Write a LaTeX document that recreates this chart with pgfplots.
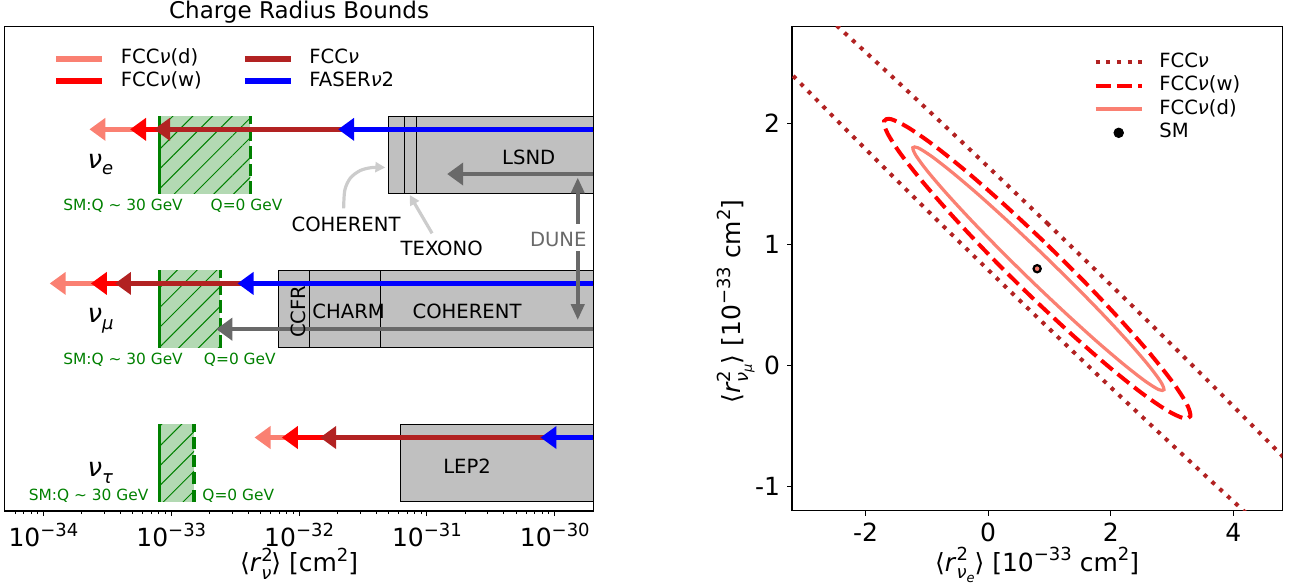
\documentclass[border=0pt]{standalone}
\usepackage{fontspec}
\setmainfont{DejaVu Sans}
\usepackage{pgfplots}
\pgfplotsset{compat=1.18}
\usetikzlibrary{arrows.meta,patterns.meta}
\definecolor{salmon}{HTML}{FA8072}
\definecolor{firebrick}{HTML}{B22222}
\definecolor{mplred}{HTML}{FF0000}
\definecolor{mplblue}{HTML}{0000FF}
\definecolor{dimgray}{HTML}{696969}
\definecolor{lgray}{HTML}{CCCCCC}
\definecolor{boxgray}{HTML}{C0C0C0}
\definecolor{mplgreen}{HTML}{008000}
\definecolor{greenfill}{HTML}{B3D9B3}
\newcommand{\sfs}[1]{\fontsize{#1}{#1}\selectfont}
\newcommand{\pw}[1]{10\raisebox{5pt}{\sfs{9}−#1}}
\newcommand{\sq}{\raisebox{0.42em}{\sfs{9}2}}
\tikzset{
  mainarrow/.style={line width=2.5pt,-{Triangle[length=8pt,width=11pt]}},
  grayarrow/.style={dimgray,line width=2pt,-{Triangle[length=8pt,width=11pt]}},
  txt/.style={inner sep=0pt,font=\sfs{9.8}},
  gtxt/.style={inner sep=0pt,font=\sfs{7.7},text=mplgreen,anchor=base west},
}
\pgfplotsset{
  linelegend/.style={legend image code/.code={\draw[##1] (0pt,0pt) -- (23pt,0pt);}},
  marklegend/.style={legend image code/.code={\draw[mark repeat=2,mark phase=2,##1] plot coordinates {(0pt,0pt) (11.5pt,0pt) (23pt,0pt)};}},
}
\begin{document}
\begin{tikzpicture}
\path[use as bounding box] (0pt,0pt) rectangle (649.5pt,-293pt);
% ---------------- left panel ----------------
\begin{axis}[
  at={(2.5pt,-255.5pt)}, anchor=south west,
  scale only axis, width=294.15pt, height=242.15pt,
  xmode=log, xmin=5e-35, xmax=2e-30, ymin=0.523, ymax=3.666,
  ytick=\empty, ymajorticks=false, yminorticks=false,
  xtick={1e-34,1e-33,1e-32,1e-31,1e-30},
  xticklabels={\pw{34},\pw{33},\pw{32},\pw{31},\pw{30}},
  minor xtick={6e-35,7e-35,8e-35,9e-35,2e-34,3e-34,4e-34,5e-34,6e-34,7e-34,8e-34,9e-34,2e-33,3e-33,4e-33,5e-33,6e-33,7e-33,8e-33,9e-33,2e-32,3e-32,4e-32,5e-32,6e-32,7e-32,8e-32,9e-32,2e-31,3e-31,4e-31,5e-31,6e-31,7e-31,8e-31,9e-31},
  xtick pos=left, tick align=outside,
  major tick length=2.5pt, minor tick length=1.6pt,
  tick style={black,line width=0.5pt},
  axis line style={black,line width=0.55pt},
  xticklabel style={font=\sfs{12.5},text depth=0pt},
  clip mode=individual,
  legend columns=2,
  legend cell align=left,
  linelegend,
  legend style={at={(rel axis cs:0,1)}, anchor=north west, xshift=24pt, yshift=-10.8pt,
    draw=none, fill=none, inner sep=0pt, font=\sfs{9.8}, row sep=1.2pt,
    nodes={inner sep=0pt,text height=7.5pt,text depth=2.5pt},
    /tikz/every odd column/.append style={column sep=7.8pt},
    /tikz/every even column/.append style={column sep=20pt}},
]
\addlegendimage{salmon,line width=3pt}\addlegendentry{FCC\textit{ν}(d)}
\addlegendimage{firebrick,line width=3pt}\addlegendentry{FCC\textit{ν}}
\addlegendimage{mplred,line width=3pt}\addlegendentry{FCC\textit{ν}(w)}
\addlegendimage{mplblue,line width=3pt}\addlegendentry{FASER\textit{ν}2}
% gray boxes
\addplot[fill=boxgray,draw=black,line width=0.5pt] coordinates {(5.02e-32,2.583) (2e-30,2.583) (2e-30,3.085) (5.02e-32,3.085)} -- cycle;
\addplot[black,line width=0.5pt] coordinates {(6.66e-32,2.583) (6.66e-32,3.085)};
\addplot[black,line width=0.5pt] coordinates {(8.32e-32,2.583) (8.32e-32,3.085)};
\addplot[fill=boxgray,draw=black,line width=0.5pt] coordinates {(6.84e-33,1.583) (2e-30,1.583) (2e-30,2.085) (6.84e-33,2.085)} -- cycle;
\addplot[black,line width=0.5pt] coordinates {(1.21e-32,1.583) (1.21e-32,2.085)};
\addplot[black,line width=0.5pt] coordinates {(4.32e-32,1.583) (4.32e-32,2.085)};
\addplot[fill=boxgray,draw=black,line width=0.5pt] coordinates {(6.23e-32,0.583) (2e-30,0.583) (2e-30,1.085) (6.23e-32,1.085)} -- cycle;
% green hatched regions
\addplot[draw=none,fill=greenfill,postaction={pattern={Lines[angle=45,distance=7pt,line width=0.5pt]},pattern color=mplgreen}] coordinates {(8.09e-34,2.583) (4.15e-33,2.583) (4.15e-33,3.085) (8.09e-34,3.085)} -- cycle;
\addplot[draw=none,fill=greenfill,postaction={pattern={Lines[angle=45,distance=7pt,line width=0.5pt]},pattern color=mplgreen}] coordinates {(8.09e-34,1.583) (2.42e-33,1.583) (2.42e-33,2.085) (8.09e-34,2.085)} -- cycle;
\addplot[draw=none,fill=greenfill,postaction={pattern={Lines[angle=45,distance=7pt,line width=0.5pt]},pattern color=mplgreen}] coordinates {(8.09e-34,0.583) (1.51e-33,0.583) (1.51e-33,1.085) (8.09e-34,1.085)} -- cycle;
\addplot[mplgreen,line width=1.65pt] coordinates {(8.09e-34,2.583) (8.09e-34,3.085)};
\addplot[mplgreen,line width=1.65pt] coordinates {(8.09e-34,1.583) (8.09e-34,2.085)};
\addplot[mplgreen,line width=1.65pt] coordinates {(8.09e-34,0.583) (8.09e-34,1.085)};
\addplot[mplgreen,line width=1.65pt,dash pattern=on 6.1pt off 2.65pt] coordinates {(4.15e-33,2.583) (4.15e-33,3.085)};
\addplot[mplgreen,line width=1.65pt,dash pattern=on 6.1pt off 2.65pt] coordinates {(2.42e-33,1.583) (2.42e-33,2.085)};
\addplot[mplgreen,line width=1.65pt,dash pattern=on 6.1pt off 2.65pt] coordinates {(1.51e-33,0.583) (1.51e-33,1.085)};
% gray DUNE arrows
\addplot[grayarrow] coordinates {(2e-30,2.710) (1.44e-31,2.710)};
\addplot[grayarrow] coordinates {(2e-30,1.703) (2.25e-33,1.703)};
% nu_e arrows
\addplot[salmon,mainarrow] coordinates {(2e-30,3) (2.29e-34,3)};
\addplot[mplred,mainarrow] coordinates {(2e-30,3) (4.76e-34,3)};
\addplot[firebrick,mainarrow] coordinates {(2e-30,3) (7.33e-34,3)};
\addplot[mplblue,mainarrow] coordinates {(2e-30,3) (2.02e-32,3)};
% nu_mu arrows
\addplot[salmon,mainarrow] coordinates {(2e-30,2) (1.12e-34,2)};
\addplot[mplred,mainarrow] coordinates {(2e-30,2) (2.35e-34,2)};
\addplot[firebrick,mainarrow] coordinates {(2e-30,2) (3.63e-34,2)};
\addplot[mplblue,mainarrow] coordinates {(2e-30,2) (3.30e-33,2)};
% nu_tau arrows
\addplot[salmon,mainarrow] coordinates {(2e-30,1) (4.48e-33,1)};
\addplot[mplred,mainarrow] coordinates {(2e-30,1) (7.33e-33,1)};
\addplot[firebrick,mainarrow] coordinates {(2e-30,1) (1.46e-32,1)};
\addplot[mplblue,mainarrow] coordinates {(2e-30,1) (7.73e-31,1)};
% annotation arrows
\addplot[dimgray,line width=2pt,{Triangle[length=8pt,width=6.5pt]}-{Triangle[length=8pt,width=6.5pt]}] coordinates {(1.513e-30,1.762) (1.513e-30,2.688)};
\addplot[lgray,line width=1.6pt,smooth,-{Triangle[length=5pt,width=5pt]}] coordinates {(2.230e-32,2.487) (2.279e-32,2.606) (2.517e-32,2.684) (3.013e-32,2.733) (3.72e-32,2.752) (4.73e-32,2.752)};
\addplot[lgray,line width=1.6pt,-{Triangle[length=5pt,width=5pt]}] coordinates {(1.097e-31,2.325) (7.33e-32,2.574)};
% texts
\node[txt,anchor=base] at (axis cs:6.26e-31,2.775) {LSND};
\node[txt,anchor=base] at (axis cs:2.44e-32,1.774) {CHARM};
\node[txt,anchor=base] at (axis cs:2.06e-31,1.774) {COHERENT};
\node[txt,anchor=base] at (axis cs:2.06e-31,0.768) {LEP2};
\node[txt,anchor=base] at (axis cs:2.33e-32,2.340) {COHERENT};
\node[txt,anchor=base] at (axis cs:1.305e-31,2.184) {TEXONO};
\node[txt,anchor=base,rotate=90] at (axis cs:1.118e-32,1.816) {CCFR};
\node[txt,anchor=base,text=dimgray,fill=white,text height=9.3pt,text depth=0pt,inner ysep=2pt,inner xsep=1pt] at (axis cs:1.065e-30,2.238) {DUNE};
\node[gtxt] at (axis cs:1.42e-34,2.472) {SM:Q ∼ 30 GeV};
\node[gtxt] at (axis cs:2.02e-33,2.472) {Q=0 GeV};
\node[gtxt] at (axis cs:1.42e-34,1.475) {SM:Q ∼ 30 GeV};
\node[gtxt] at (axis cs:1.79e-33,1.475) {Q=0 GeV};
\node[gtxt] at (axis cs:7.63e-35,0.594) {SM:Q ∼ 30 GeV};
\node[gtxt] at (axis cs:1.74e-33,0.594) {Q=0 GeV};
\node[inner sep=0pt,anchor=base west,font=\sfs{13}] at (axis cs:2.20e-34,2.747) {\textit{ν}\raisebox{-0.25em}{\sfs{9}\textit{e}}};
\node[inner sep=0pt,anchor=base west,font=\sfs{13}] at (axis cs:2.20e-34,1.745) {\textit{ν}\raisebox{-0.25em}{\sfs{9}\textit{μ}}};
\node[inner sep=0pt,anchor=base west,font=\sfs{13}] at (axis cs:2.20e-34,0.746) {\textit{ν}\raisebox{-0.25em}{\sfs{9}\textit{τ}}};
% title and label
\node[inner sep=0pt,anchor=base,font=\sfs{11.5}] at (rel axis cs:0.5,1.0173) {Charge Radius Bounds};
\node[inner sep=0pt,anchor=base,font=\sfs{12.5}] at (rel axis cs:0.5,-0.1250) {⟨\textit{r}\rlap{\sq}\raisebox{-0.3em}{\sfs{9}\textit{ν}}⟩ [cm\sq]};
\end{axis}
% ---------------- right panel ----------------
\begin{axis}[
  at={(396pt,-255.35pt)}, anchor=south west,
  scale only axis, width=245.15pt, height=242pt,
  xmin=-3.2, xmax=4.8, ymin=-1.2, ymax=2.8,
  xtick={-2,0,2,4}, xticklabels={-2,0,2,4},
  ytick={-1,0,1,2}, yticklabels={-1,0,1,2},
  xtick pos=left, ytick pos=left, tick align=outside,
  major tick length=2.5pt,
  tick style={black,line width=0.5pt},
  axis line style={black,line width=0.55pt},
  ticklabel style={font=\sfs{12.5}},
  xticklabel style={text depth=0pt},
  clip mode=individual,
  legend cell align=left,
  linelegend,
  legend style={at={(rel axis cs:0,1)}, anchor=north west, xshift=150.65pt, yshift=-12.6pt,
    draw=none, fill=none, inner sep=0pt, font=\sfs{9.8}, row sep=1.75pt,
    nodes={inner sep=0pt,text height=7.5pt,text depth=2.5pt},
    /tikz/every odd column/.append style={column sep=7.8pt}},
]
\addlegendimage{firebrick,line width=2pt,dash pattern=on 2pt off 3.3pt}\addlegendentry{FCC\textit{ν}}
\addlegendimage{mplred,line width=2pt,dash pattern=on 7.4pt off 3.2pt}\addlegendentry{FCC\textit{ν}(w)}
\addlegendimage{salmon,line width=2pt}\addlegendentry{FCC\textit{ν}(d)}
\addlegendimage{black,only marks,mark=*,mark size=2.4pt,marklegend}\addlegendentry{SM}
% FCCnu: very elongated contour
\addplot[firebrick,line width=2pt,dash pattern=on 2pt off 3.3pt,smooth] coordinates {(0.980,1.168) (-0.412,1.840) (-1.766,2.481) (-3.043,3.073) (-4.202,3.595) (-5.207,4.033) (-6.648,4.607) (-7.188,4.724) (-6.764,4.371) (-5.425,3.589) (-4.460,3.065) (-3.335,2.473) (-2.084,1.831) (-0.744,1.158) (0.642,0.476) (2.034,-0.196) (3.388,-0.837) (4.665,-1.429) (5.824,-1.951) (6.830,-2.389) (8.270,-2.963) (8.810,-3.080) (8.386,-2.727) (7.047,-1.945) (6.082,-1.421) (4.957,-0.829) (3.706,-0.187) (2.366,0.486) (0.980,1.168)};
% FCCnu(w)
\addplot[mplred,line width=2pt,dash pattern=on 7.4pt off 3.2pt,smooth] coordinates {(0.910,1.025) (0.259,1.332) (-0.355,1.604) (-0.889,1.821) (-1.309,1.968) (-1.585,2.036) (-1.699,2.019) (-1.642,1.919) (-1.419,1.743) (-1.044,1.503) (-0.544,1.215) (0.047,0.898) (0.690,0.575) (1.341,0.268) (1.955,-0.004) (2.489,-0.221) (2.909,-0.368) (3.185,-0.435) (3.299,-0.419) (3.242,-0.319) (3.019,-0.143) (2.644,0.097) (2.144,0.385) (1.553,0.702) (0.910,1.025)};
% FCCnu(d)
\addplot[salmon,line width=1.6pt,smooth] coordinates {(0.881,0.926) (0.349,1.180) (-0.151,1.409) (-0.586,1.596) (-0.923,1.729) (-1.143,1.799) (-1.229,1.800) (-1.175,1.733) (-0.985,1.603) (-0.672,1.418) (-0.258,1.191) (0.231,0.937) (0.759,0.674) (1.291,0.420) (1.791,0.191) (2.226,0.004) (2.563,-0.129) (2.783,-0.199) (2.869,-0.200) (2.815,-0.133) (2.625,-0.003) (2.312,0.182) (1.898,0.409) (1.409,0.663) (0.881,0.926)};
% SM
\addplot[only marks,mark=*,mark size=1.8pt,mark options={draw=black,fill=salmon,line width=1.1pt}] coordinates {(0.8,0.8)};
\node[inner sep=0pt,anchor=base,font=\sfs{12.5}] at (rel axis cs:0.5,-0.1246) {⟨\textit{r}\rlap{\sq}\raisebox{-0.3em}{\sfs{9}\textit{ν}\raisebox{-0.2em}{\sfs{6.5}\textit{e}}}⟩ [10\raisebox{0.42em}{\sfs{9}−33} cm\sq]};
\node[inner sep=0pt,anchor=base,rotate=90,font=\sfs{12.5}] at (rel axis cs:-0.1046,0.432) {⟨\textit{r}\rlap{\sq}\raisebox{-0.3em}{\sfs{9}\textit{ν}\raisebox{-0.2em}{\sfs{6.5}\textit{μ}}}⟩ [10\raisebox{0.42em}{\sfs{9}−33} cm\sq]};
\end{axis}
\end{tikzpicture}
\end{document}
